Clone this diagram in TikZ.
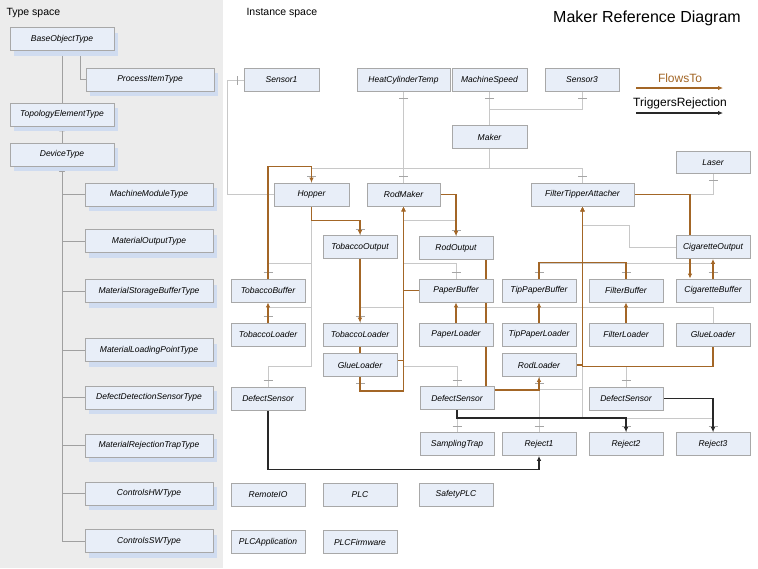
\documentclass[tikz,border=0pt]{standalone}
\usepackage{fontspec}
\setmainfont{Liberation Sans}
\usetikzlibrary{arrows.meta,shadows,decorations.markings}
\definecolor{typeBg}{RGB}{236,236,236}
\definecolor{boxFill}{RGB}{232,238,248}
\definecolor{boxLine}{RGB}{168,168,168}
\definecolor{boxShadow}{RGB}{208,220,240}
\definecolor{compGrey}{RGB}{200,200,200}
\definecolor{tickGrey}{RGB}{165,165,165}
\definecolor{inhGrey}{RGB}{160,160,160}
\definecolor{flowBrown}{RGB}{163,102,38}
\definecolor{trigBlack}{RGB}{40,40,40}
\pgfdeclarelayer{bg}
\pgfsetlayers{bg,main}

\begin{document}
\begin{tikzpicture}[x=1pt,y=-1pt,
    inst/.style={draw=boxLine, line width=0.8pt, fill=boxFill, minimum width=74pt,
      minimum height=23pt, inner sep=0pt, font=\itshape\fontsize{8.5}{10}\selectfont},
    typebox/.style={inst, minimum width=128pt,
      general shadow={fill=boxShadow, shadow xshift=4pt, shadow yshift=-5pt}},
    link/.style={draw=compGrey, line width=0.8pt},
    comp/.style={link, postaction={decorate}, decoration={markings,
      mark=at position -6pt with {\draw[tickGrey, line width=0.8pt] (0,-4.5pt) -- (0,4.5pt);}}},
    flow/.style={draw=flowBrown, line width=1.2pt, -{Latex[length=5pt,width=4.5pt]}},
    trig/.style={draw=trigBlack, line width=1.3pt, -{Latex[length=5pt,width=4.5pt]}},
    inherit/.style={draw=inhGrey, line width=1pt, -{Triangle[open, fill=white, length=5pt, width=5pt]}}]

  \useasboundingbox (0,0) rectangle (758,568);
  \begin{pgfonlayer}{bg}
    \fill[white] (0,0) rectangle (758,568);
    \fill[typeBg] (0,0) rectangle (223,568);
  \end{pgfonlayer}

  % labels and legend
  \node[anchor=west, font=\fontsize{10.5}{12}\selectfont] (typelbl) at (3,13) {Type space};
  \node[anchor=west, font=\fontsize{10.5}{12}\selectfont] (instlbl) at (243,13) {Instance space};
  \node[font=\fontsize{16}{18}\selectfont] (title) at (647,18) {Maker Reference Diagram};
  \node[text=flowBrown, font=\fontsize{12}{14}\selectfont] (lgflow) at (680,78) {FlowsTo};
  \node[font=\fontsize{12}{14}\selectfont] (lgtrig) at (680,103) {TriggersRejection};
  \coordinate (lgflowA) at (636,88);  \coordinate (lgflowB) at (723,88);
  \coordinate (lgtrigA) at (636,113); \coordinate (lgtrigB) at (723,113);
  \draw[flow] (lgflowA) -- (lgflowB);
  \draw[trig] (lgtrigA) -- (lgtrigB);

  % type space
  \node[typebox, minimum width=104pt] (base) at (62,39) {BaseObjectType};
  \node[typebox] (procitem) at (150,79.5) {ProcessItemType};
  \node[typebox, minimum width=104pt] (topo) at (62,114.5) {TopologyElementType};
  \node[typebox, minimum width=104pt] (device) at (62,154.5) {DeviceType};
  \node[typebox] (machmod) at (149,194.5) {MachineModuleType};
  \node[typebox] (matout) at (149,241) {MaterialOutputType};
  \node[typebox] (matstore) at (149,291) {MaterialStorageBufferType};
  \node[typebox] (matload) at (149,350) {MaterialLoadingPointType};
  \node[typebox] (defecttype) at (149,397.5) {DefectDetectionSensorType};
  \node[typebox] (rejecttype) at (149,445.5) {MaterialRejectionTrapType};
  \node[typebox] (ctrlhw) at (149,493.5) {ControlsHWType};
  \node[typebox] (ctrlsw) at (149,541) {ControlsSWType};

  % instance space
  \node[inst, minimum width=75pt] (sensor1) at (281.5,80) {Sensor1};
  \node[inst, minimum width=93pt] (heatcyl) at (403.5,80) {HeatCylinderTemp};
  \node[inst, minimum width=75pt] (machspeed) at (489.5,80) {MachineSpeed};
  \node[inst] (sensor3) at (582,80) {Sensor3};
  \node[inst, minimum width=75pt] (maker) at (489.5,137) {Maker};
  \node[inst, minimum height=22pt] (laser) at (713,162.5) {Laser};
  \node[inst, minimum width=75pt] (hopper) at (311.5,194.5) {Hopper};
  \node[inst, minimum width=73pt] (rodmaker) at (403.5,194.5) {RodMaker};
  \node[inst, minimum width=103pt] (fta) at (582.5,194.5) {FilterTipperAttacher};
  \node[inst] (tobout) at (360,247) {TobaccoOutput};
  \node[inst] (rodout) at (456,248) {RodOutput};
  \node[inst] (cigout) at (713,247) {CigaretteOutput};
  \node[inst] (tobbuf) at (268,290.5) {TobaccoBuffer};
  \node[inst] (paperbuf) at (456,290.5) {PaperBuffer};
  \node[inst] (tipbuf) at (539,290.5) {TipPaperBuffer};
  \node[inst] (filterbuf) at (626,290.5) {FilterBuffer};
  \node[inst] (cigbuf) at (713,290.5) {CigaretteBuffer};
  \node[inst] (tobload1) at (268,334.5) {TobaccoLoader};
  \node[inst] (tobload2) at (360,334.5) {TobaccoLoader};
  \node[inst] (paperload) at (456,334.5) {PaperLoader};
  \node[inst] (tipload) at (539,334.5) {TipPaperLoader};
  \node[inst] (filterload) at (626,334.5) {FilterLoader};
  \node[inst] (glueload2) at (713,334.5) {GlueLoader};
  \node[inst] (glueload1) at (360,365) {GlueLoader};
  \node[inst] (rodload) at (539,365) {RodLoader};
  \node[inst] (defsens1) at (268,398.5) {DefectSensor};
  \node[inst] (defsens2) at (457,398) {DefectSensor};
  \node[inst] (defsens3) at (626,398.5) {DefectSensor};
  \node[inst] (sampling) at (457,444) {SamplingTrap};
  \node[inst] (reject1) at (539,444) {Reject1};
  \node[inst] (reject2) at (626,444) {Reject2};
  \node[inst] (reject3) at (713,444) {Reject3};
  \node[inst] (remoteio) at (268,494.5) {RemoteIO};
  \node[inst] (plc) at (360,494.5) {PLC};
  \node[inst] (safetyplc) at (456,494.5) {SafetyPLC};
  \node[inst] (plcapp) at (268,542) {PLCApplication};
  \node[inst] (plcfw) at (360,542) {PLCFirmware};

  \begin{pgfonlayer}{bg}
    % subtypes
    \draw[inherit] (topo.north) -- (base.south);
    \draw[inherit] (procitem.west) -| ([xshift=18pt]base.south);
    \draw[inherit] (device.north) -- (topo.south);
    \foreach \t in {machmod,matout,matstore,matload,defecttype,rejecttype,ctrlhw,ctrlsw}
      \draw[inherit] (\t.west) -| (device.south);

    % components
    \draw[comp] (hopper.west) -- ++(-46,0) |- (sensor1.west);
    \draw[comp] (rodmaker.north) -- (heatcyl.south);
    \draw[comp] (maker.north) -- (machspeed.south);
    \draw[comp] (maker.north) -- ++(0,-16) -| (sensor3.south);
    \foreach \c in {hopper,rodmaker,fta}
      \draw[comp] (maker.south) -- ++(0,19) -| (\c.north);
    \draw[comp] (fta.east) -| (laser.south);
    \draw[comp] (hopper.south) -- ++(0,14) -| (tobout.north);
    \draw[comp] (hopper.south) -- ++(0,57) -| (tobbuf.north);
    \draw[comp] (hopper.south) -- ++(0,101) -| (tobload1.north);
    \draw[comp] (hopper.south) -- ++(0,160) -| (defsens1.north);
    \draw[comp] (rodmaker.south) -- ++(0,14) -| (rodout.north);
    \draw[comp] (rodmaker.south) -- ++(0,57) -| (paperbuf.north);
    \draw[comp] (rodmaker.south) -- ++(0,101) -| (tobload2.north);
    \draw[comp] (rodmaker.south) -- ++(0,160) -| (defsens2.north);
    \draw[comp] (rodmaker.south) -- ++(0,185) -| (glueload1.south);
    \draw[link] (fta.south) -- ++(0,19) -- ++(47,0) |- (cigout.west);
    \foreach \c in {tipbuf,filterbuf,cigbuf}
      \draw[comp] (fta.south) -- ++(0,57) -| (\c.north);
    \foreach \c in {paperload,tipload,filterload,glueload2}
      \draw[link] (fta.south) -- ++(0,101) -| (\c.north);
    \draw[comp] (fta.south) -- ++(0,160) -| (defsens3.north);
    \draw[comp] (fta.south) -- ++(0,183) -| (rodload.south);
    \draw[comp] (fta.south) -- ++(0,183) -| (reject1.north);
    \foreach \c in {sampling,reject2,reject3}
      \draw[comp] (fta.south) -- ++(0,212) -| (\c.north);

    % material flow
    \draw[flow] (tobbuf.north) -- ++(0,-112) -| (hopper.north);
    \draw[flow] (hopper.south) -- ++(0,14) -| (tobout.north);
    \draw[flow] (tobout.south) -- (tobload2.north);
    \draw[flow] (tobload2.south) -- ++(0,14) -| (rodmaker.south);
    \draw[flow] (glueload1.south) -- ++(0,14) -| (rodmaker.south);
    \draw[flow] (paperbuf.west) -| (rodmaker.south);
    \draw[flow] (paperload.north) -- (paperbuf.south);
    \draw[flow] (tobload1.north) -- (tobbuf.south);
    \draw[flow] (rodmaker.east) -| (rodout.north);
    \draw[flow] ([xshift=30pt]rodout.south) -- ++(0,130) -| (rodload.south);
    \draw[flow] (rodload.east) -| (fta.south);
    \draw[flow] (glueload2.south) -- ++(0,20) -| (fta.south);
    \draw[flow] (tipbuf.north) -- ++(0,-16) -| (fta.south);
    \draw[flow] (filterbuf.north) -- ++(0,-16) -| (fta.south);
    \draw[flow] (tipload.north) -- (tipbuf.south);
    \draw[flow] (filterload.north) -- (filterbuf.south);
    \draw[flow] (fta.east) -| ([xshift=-23pt]cigbuf.north);
    \draw[flow] (cigbuf.north) -- (cigout.south);

    % rejection triggers
    \draw[trig] (defsens1.south) -- ++(0,59) -| (reject1.south);
    \draw[trig] (defsens2.south) -- ++(0,8) -| (reject2.north);
    \draw[trig] (defsens3.east) -| (reject3.north);
  \end{pgfonlayer}
\end{tikzpicture}
\end{document}
